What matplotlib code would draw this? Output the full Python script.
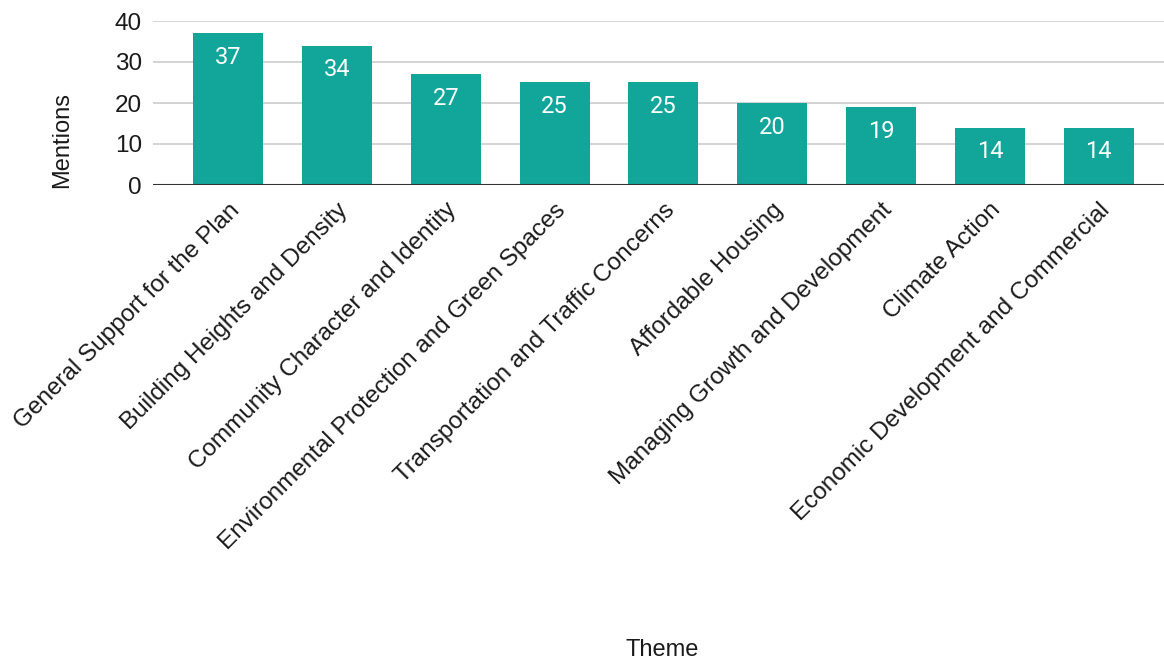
import matplotlib.pyplot as plt

themes = [
    "General Support for the Plan",
    "Building Heights and Density",
    "Community Character and Identity",
    "Environmental Protection and Green Spaces",
    "Transportation and Traffic Concerns",
    "Affordable Housing",
    "Managing Growth and Development",
    "Climate Action",
    "Economic Development and Commercial",
]
mentions = [37, 34, 27, 25, 25, 20, 19, 14, 14]

plt.rcParams['font.family'] = ['Liberation Sans', 'DejaVu Sans']

fig = plt.figure(figsize=(11.64, 6.64), dpi=100)
ax = fig.add_axes([153 / 1164, 1 - 185 / 664, 1 - 153 / 1164, (185 - 21) / 664])

x = range(len(themes))
bars = ax.bar(x, mentions, width=0.643, color='#12a69b', zorder=2)

# value labels inside bar tops
for b, v in zip(bars, mentions):
    ax.annotate(str(v), (b.get_x() + b.get_width() / 2, v),
                xytext=(0, -17.5), textcoords='offset points',
                ha='center', va='center', color='white',
                fontsize=17, family='Roboto', zorder=3)

ax.set_xlim(-0.69, 8.6)
ax.set_ylim(0, 40)
ax.set_yticks([0, 10, 20, 30, 40])
ax.grid(axis='y', color='#cccccc', linewidth=1.2, zorder=0)
ax.axhline(0, color='#333333', linewidth=1.5, zorder=4)
for s in ax.spines.values():
    s.set_visible(False)
ax.tick_params(axis='both', length=0, labelsize=17.5, colors='#1a1a1a')
ax.tick_params(axis='y', pad=8)
ax.set_xticks(list(x))
ax.set_xticklabels(themes, rotation=45, ha='right', rotation_mode='anchor')
ax.tick_params(axis='x', pad=10)

fig.text(62 / 1164, 1 - 140 / 664, 'Mentions', rotation=90,
         ha='center', va='center', fontsize=17, color='#1a1a1a')
fig.text(662 / 1164, 1 - 650 / 664, 'Theme',
         ha='center', va='center', fontsize=17, color='#1a1a1a')

fig.savefig('out.png', dpi=100, facecolor='white')
